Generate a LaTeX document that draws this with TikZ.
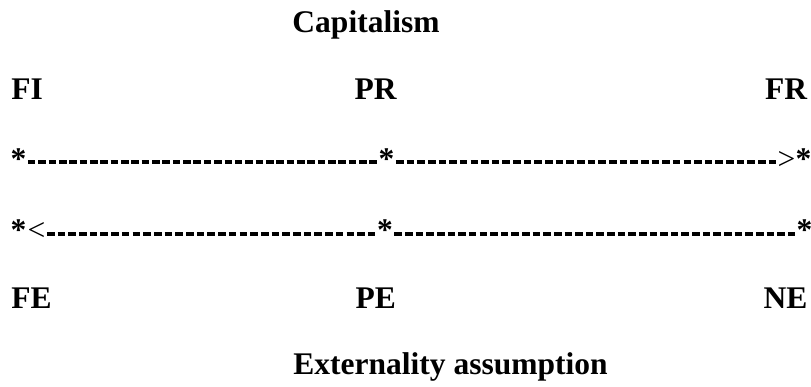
\documentclass[tikz,border=0pt]{standalone}
\usepackage{fontspec}
\setmainfont{Liberation Serif}
\begin{document}
\begin{tikzpicture}[x=1pt,y=-1pt,
  lbl/.style={inner sep=0pt, font=\fontsize{31.5}{38}\selectfont\bfseries},
  sym/.style={inner sep=0pt, anchor=base, font=\fontsize{31.5}{38}\selectfont\bfseries},
  tip/.style={inner sep=0pt, anchor=base, font=\fontsize{31.5}{38}\selectfont},
  dashrow/.style={line width=3.6pt, line cap=butt, dash pattern=on 7.6pt off #1,
                  shorten <=1.4pt, shorten >=1.5pt}]
\useasboundingbox (0,0) rectangle (811,387);
% titles
\node[lbl, anchor=base] (cap) at (366,33) {Capitalism};
\node[lbl, anchor=base] (ext) at (450.5,374) {Externality assumption};
% top labels
\node[lbl, anchor=base west] (FI) at (11.2,100) {FI};
\node[lbl, anchor=base west] (PR) at (354.5,100) {PR};
\node[lbl, anchor=base east] (FR) at (807.2,100) {FR};
% bottom labels
\node[lbl, anchor=base west] (FE) at (11.2,308.5) {FE};
\node[lbl, anchor=base west] (PE) at (355.5,308.5) {PE};
\node[lbl, anchor=base east] (NE) at (807.5,308.5) {NE};
% row 1
\node[sym] (a1) at (18.4,169.5) {*};
\node[sym] (a2) at (386.5,169.5) {*};
\node[tip] (gt) at (786.5,169.5) {>};
\node[sym] (a3) at (803.5,169.5) {*};
\draw[dashrow=2.75pt] ([yshift=7.2pt]a1.base east) -- ([yshift=7.2pt]a2.base west);
\draw[dashrow=3.05pt] ([yshift=7.2pt]a2.base east) -- ([yshift=7.2pt]gt.base west);
% row 2
\node[sym] (b1) at (18.5,241) {*};
\node[tip] (lt) at (36.5,241) {<};
\node[sym] (b2) at (385,241) {*};
\node[sym] (b3) at (804.5,241) {*};
\draw[dashrow=3.1pt] ([yshift=7.2pt]lt.base east) -- ([yshift=7.2pt]b2.base west);
\draw[dashrow=3.03pt] ([yshift=7.2pt]b2.base east) -- ([yshift=7.2pt]b3.base west);
\end{tikzpicture}
\end{document}
